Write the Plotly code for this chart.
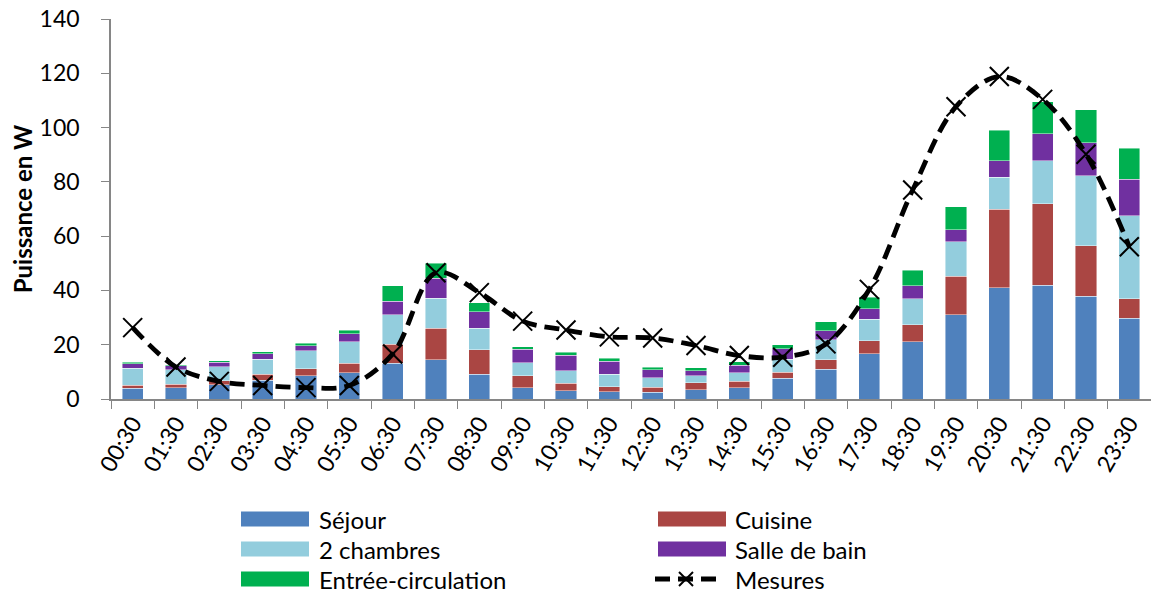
import plotly.graph_objects as go

hours = ["00:30", "01:30", "02:30", "03:30", "04:30", "05:30", "06:30", "07:30",
         "08:30", "09:30", "10:30", "11:30", "12:30", "13:30", "14:30", "15:30",
         "16:30", "17:30", "18:30", "19:30", "20:30", "21:30", "22:30", "23:30"]

sejour = [3.9, 4.2, 5.2, 6.9, 8.6, 9.7, 13.1, 14.5, 9.2, 4.2, 3.1, 2.7,
          2.5, 3.4, 4.1, 7.7, 11.0, 16.6, 21.1, 31.1, 41.0, 42.0, 37.8, 29.7]
cuisine = [1.1, 1.3, 1.6, 2.3, 2.6, 3.4, 7.0, 11.5, 9.0, 4.3, 2.7, 1.8,
           1.8, 2.6, 2.4, 2.1, 3.5, 4.8, 6.2, 14.2, 28.9, 30.0, 18.7, 7.2]
chambres = [6.3, 5.3, 5.0, 5.5, 6.6, 8.0, 10.9, 11.1, 7.8, 4.9, 4.6, 4.6,
            3.6, 2.5, 3.2, 4.9, 7.4, 8.0, 9.6, 12.6, 11.8, 15.8, 25.8, 30.7]
salle_bain = [1.7, 1.4, 1.7, 2.0, 1.9, 2.9, 5.0, 7.4, 6.1, 4.9, 5.7, 4.8,
              2.8, 1.9, 2.8, 3.9, 3.3, 3.9, 4.9, 4.4, 6.0, 10.0, 12.2, 13.4]
entree = [0.5, 0.5, 0.6, 0.7, 0.9, 1.3, 5.8, 5.6, 3.3, 1.0, 1.1, 1.1,
          1.0, 1.1, 1.3, 1.4, 3.3, 4.2, 5.7, 8.5, 11.3, 11.8, 12.0, 11.4]
mesures = [26.3, 11.8, 6.5, 5.0, 4.2, 5.0, 16.6, 46.5, 39.2, 28.7, 25.4, 22.9,
           22.5, 19.7, 16.0, 15.4, 20.3, 40.4, 77.0, 107.7, 118.8, 110.4, 90.2, 56.1]

y_ticks = [0, 20, 40, 60, 80, 100, 120, 140]

series_names = ["Séjour", "Cuisine", "2 chambres", "Salle de bain", "Entrée-circulation"]
series_colors = ["#4F81BD", "#AA4643", "#93CDDD", "#7030A0", "#00B050"]
series_values = [sejour, cuisine, chambres, salle_bain, entree]
line_name = "Mesures"

FONT = "Lato"
W, H = 1151, 593
ML, MR, MT, MB = 111, 0, 19, 194
PW, PH = W - ML - MR, H - MT - MB


def px(x):
    return (x - ML) / PW


def py(y):
    return (H - MB - y) / PH


bar_line = dict(color="rgba(255,255,255,0.55)", width=0.8)

fig = go.Figure()
for name, vals, col in zip(series_names, series_values, series_colors):
    fig.add_trace(go.Bar(x=hours, y=vals, name=name,
                         marker=dict(color=col, line=bar_line)))

fig.add_trace(go.Scatter(
    x=hours, y=mesures, name=line_name, mode="lines+markers",
    line=dict(color="black", width=4.8, dash="15px,8px", shape="spline", smoothing=1.0),
    marker=dict(symbol="x-thin-open", size=19, color="black",
                line=dict(color="black", width=2)),
))

# ---- custom legend (2 columns x 3 rows) ----
shapes = []
annotations = []
legend_items = list(zip(series_names, series_colors)) + [(line_name, None)]
col_rect_x = [241, 658]
col_text_x = [317, 733]
row_y = [519, 549, 579]
for k, (name, col) in enumerate(legend_items):
    c, r = k % 2, k // 2
    yc = row_y[r]
    if col is not None:
        shapes.append(dict(type="rect", xref="paper", yref="paper",
                           x0=px(col_rect_x[c]), x1=px(col_rect_x[c] + 68),
                           y0=py(yc + 7.5), y1=py(yc - 7.5),
                           fillcolor=col, line=dict(width=0)))
    else:
        x0 = col_rect_x[c] - 3
        shapes.append(dict(type="line", xref="paper", yref="paper",
                           x0=px(x0), x1=px(x0 + 64), y0=py(yc), y1=py(yc),
                           line=dict(color="black", width=4.8, dash="15px,8px")))
        xm = x0 + 31
        for a, b in [(-7, 7), (7, -7)]:
            shapes.append(dict(type="line", xref="paper", yref="paper",
                               x0=px(xm - 7), x1=px(xm + 7), y0=py(yc + a), y1=py(yc + b),
                               line=dict(color="black", width=2)))
    annotations.append(dict(text=name, xref="paper", yref="paper",
                            x=px(col_text_x[c]), y=py(yc), xanchor="left", yanchor="middle",
                            showarrow=False, font=dict(family=FONT, size=24, color="black")))

fig.update_layout(
    width=W, height=H,
    barmode="stack", bargap=0.51,
    plot_bgcolor="white", paper_bgcolor="white",
    margin=dict(l=ML, r=MR, t=MT, b=MB, autoexpand=False),
    font=dict(family=FONT, color="black", size=24),
    showlegend=False,
    shapes=shapes, annotations=annotations,
)
fig.update_xaxes(
    type="category", range=[-0.5, len(hours) - 0.5], autorange=False,
    showgrid=False, showline=True, linecolor="#868686", linewidth=1.5,
    ticks="outside", tickson="boundaries", ticklen=8, tickcolor="#868686",
    tickangle=-60, automargin=False,
    tickfont=dict(family=FONT, size=23, color="black"),
)
fig.update_yaxes(
    range=[0, 140], tickvals=y_ticks, showgrid=False, zeroline=False,
    showline=True, linecolor="#868686", linewidth=1.5,
    ticks="outside", ticklen=8, tickcolor="#868686", automargin=False,
    ticklabelstandoff=17,
    tickfont=dict(family=FONT, size=23, color="black"),
    title=dict(text="<b>Puissance en W</b>", font=dict(family=FONT, size=24), standoff=0),
)

fig.write_html("out.html", config={"displayModeBar": False},
               post_script="document.body.style.margin='0';")
